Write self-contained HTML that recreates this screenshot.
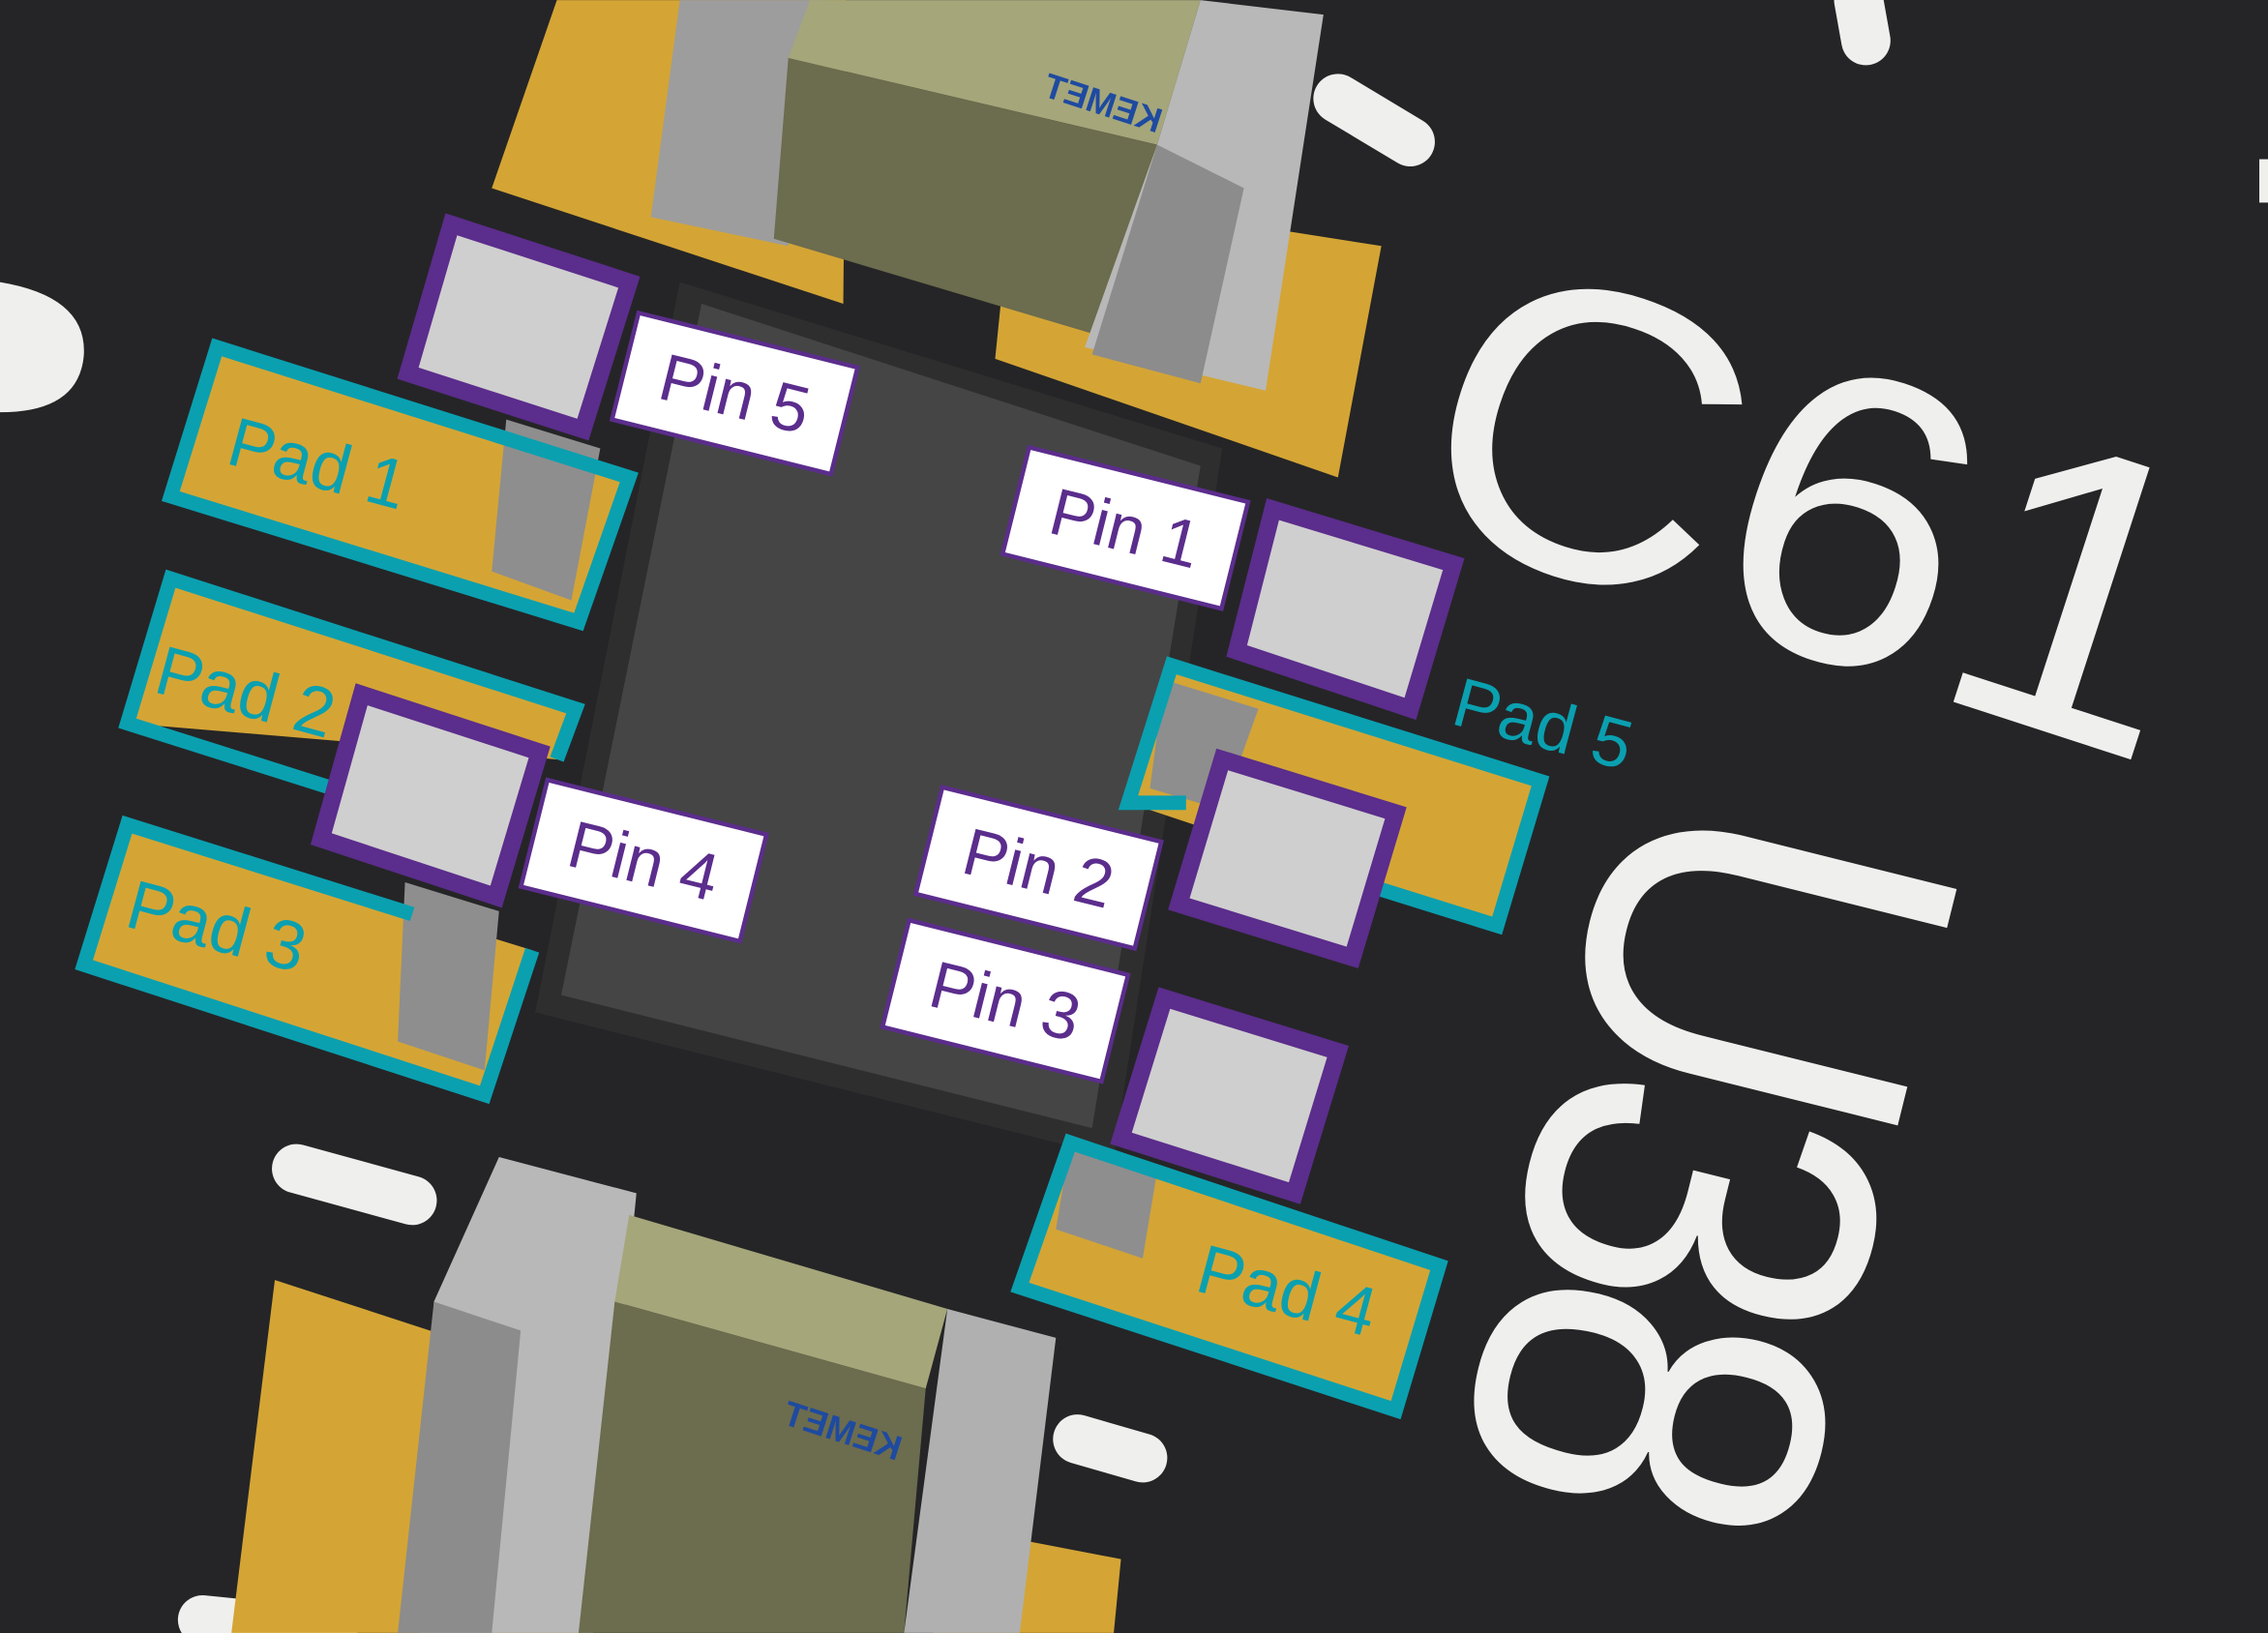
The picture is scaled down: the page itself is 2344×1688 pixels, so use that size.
<!DOCTYPE html>
<html><head><meta charset="utf-8"><style>
html,body{margin:0;padding:0;background:#252527;overflow:hidden;}
svg{display:block;}
text{font-family:"Liberation Sans","DejaVu Sans",sans-serif;}
</style></head><body>
<svg width="2344" height="1688" viewBox="0 0 1568 1129" xmlns="http://www.w3.org/2000/svg">
<rect width="1568" height="1129" fill="#252527"/>
<!-- silkscreen misc -->
<g stroke="#efefed" stroke-width="34" stroke-linecap="round" fill="none">
<line x1="925" y1="68" x2="975" y2="98"/>
<line x1="1285" y1="0" x2="1290" y2="28"/>
<line x1="205" y1="808" x2="285" y2="830"/>
<line x1="745" y1="995" x2="790" y2="1008"/>
<line x1="140" y1="1120" x2="230" y2="1129"/>
</g>
<path d="M0 195 Q60 205 58 245 Q55 285 0 285 Z" fill="#efefed"/>
<rect x="1562" y="110" width="6" height="30" fill="#efefed"/>
<!-- big silkscreen text -->
<text transform="translate(965,360) rotate(18) scale(1.05,1)" font-size="285" fill="#efefed">C61</text>
<text transform="translate(1128,535) rotate(104) scale(0.86,1)" font-size="345" letter-spacing="-22" fill="#efefed">U38</text>

<!-- top capacitor -->
<polygon points="385,0 585,0 583,210 340,130" fill="#d4a535"/>
<polygon points="700,130 955,170 925,330 688,248" fill="#d4a535"/>
<polygon points="470,0 570,0 545,170 450,150" fill="#9d9d9d"/>
<polygon points="560,0 830,0 800,100 545,40" fill="#a5a67a"/>
<polygon points="545,40 800,100 770,235 535,165" fill="#6c6c4e"/>
<polygon points="830,0 915,10 875,270 750,240 800,100" fill="#b8b8b8"/>
<polygon points="800,100 860,130 830,265 755,245" fill="#8c8c8c"/>
<text transform="translate(800,92) rotate(18) scale(-1,1)" font-size="24" font-weight="bold" fill="#1e4aa0">KEMET</text>

<!-- bottom capacitor -->
<polygon points="190,885 420,960 400,1129 160,1129" fill="#d4a535"/>
<polygon points="655,1055 775,1078 770,1129 645,1129" fill="#d4a535"/>
<polygon points="345,800 440,825 410,1129 290,1129 300,900" fill="#b8b8b8"/>
<polygon points="300,900 360,920 340,1129 275,1129" fill="#8c8c8c"/>
<polygon points="435,840 655,905 640,960 425,900" fill="#a5a67a"/>
<polygon points="425,900 640,960 625,1129 400,1129" fill="#6c6c4e"/>
<polygon points="655,905 730,925 705,1129 625,1129" fill="#b0b0b0"/>
<text transform="translate(620,1010) rotate(18) scale(-1,1)" font-size="24" font-weight="bold" fill="#1e4aa0">KEMET</text>

<!-- chip -->
<polygon points="470,195 845,310 770,800 370,700" fill="#2e2e2e"/>
<polygon points="485,210 830,322 755,780 388,688" fill="#454545"/>

<!-- pads -->
<g fill="#d4a535">
<polygon points="150,240 435,330 400,430 118,343"/>
<polygon points="118,400 398,490 385,525 88,500"/>
<polygon points="88,570 368,657 335,757 58,667"/>
<polygon points="810,460 1065,540 1035,640 780,555"/>
<polygon points="740,790 995,875 965,975 705,890"/>
</g>
<!-- pin legs -->
<g fill="#8e8e8e">
<polygon points="350,290 415,310 395,415 340,395"/>
<polygon points="280,610 345,630 335,740 275,720"/>
<polygon points="805,470 870,490 845,560 795,545"/>
<polygon points="740,790 800,810 790,870 730,850"/>
</g>
<g fill="none" stroke="#0aa0b0" stroke-width="10" stroke-linejoin="miter">
<polygon points="150,240 435,330 400,430 118,343"/>
<polyline points="230,545 88,500 118,400 398,490 385,525"/>
<polyline points="285,632 88,570 58,667 335,757 368,657"/>
<polyline points="820,555 780,555 810,460 1065,540 1035,640 955,615"/>
<polygon points="740,790 995,875 965,975 705,890"/>
</g>
<!-- pins -->
<g fill="#cfcfcf" stroke="#5b2d8c" stroke-width="12">
<polygon points="312,155 435,195 403,297 282,258"/>
<polygon points="880,352 1005,390 975,490 855,450"/>
<polygon points="845,525 965,562 935,662 815,625"/>
<polygon points="805,690 925,727 895,825 775,787"/>
<polygon points="250,480 373,520 343,620 222,580"/>
</g>
<!-- pin labels -->
<g font-size="46" fill="#5b2d8c">
<g transform="translate(508,272) rotate(14)"><rect x="-78" y="-38" width="156" height="76" fill="#fff" stroke="#5b2d8c" stroke-width="3"/><text x="0" y="16" text-anchor="middle">Pin 5</text></g>
<g transform="translate(778,365) rotate(14)"><rect x="-78" y="-38" width="156" height="76" fill="#fff" stroke="#5b2d8c" stroke-width="3"/><text x="0" y="16" text-anchor="middle">Pin 1</text></g>
<g transform="translate(445,595) rotate(14)"><rect x="-78" y="-38" width="156" height="76" fill="#fff" stroke="#5b2d8c" stroke-width="3"/><text x="0" y="16" text-anchor="middle">Pin 4</text></g>
<g transform="translate(718,600) rotate(14)"><rect x="-78" y="-38" width="156" height="76" fill="#fff" stroke="#5b2d8c" stroke-width="3"/><text x="0" y="16" text-anchor="middle">Pin 2</text></g>
<g transform="translate(695,692) rotate(14)"><rect x="-78" y="-38" width="156" height="76" fill="#fff" stroke="#5b2d8c" stroke-width="3"/><text x="0" y="16" text-anchor="middle">Pin 3</text></g>
</g>
<!-- pad labels -->
<g font-size="48" fill="#0aa0b0">
<text transform="translate(155,320) rotate(15)">Pad 1</text>
<text transform="translate(105,478) rotate(15)">Pad 2</text>
<text transform="translate(85,640) rotate(15)">Pad 3</text>
<text transform="translate(1002,500) rotate(15)">Pad 5</text>
<text transform="translate(825,892) rotate(15)">Pad 4</text>
</g>
</svg>
</body></html>
